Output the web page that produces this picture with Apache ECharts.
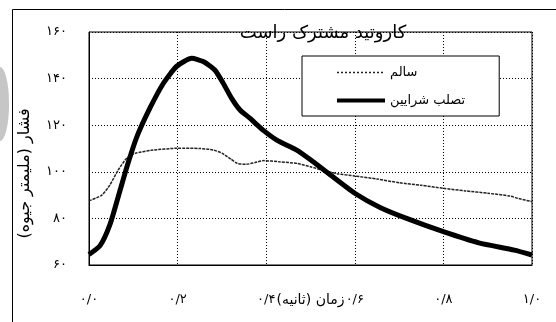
<!DOCTYPE html>
<html>
<head>
<meta charset="utf-8">
<script src="https://cdn.jsdelivr.net/npm/echarts@6/dist/echarts.min.js"></script>
<style>
html,body{margin:0;padding:0;background:#fff;}
#chart{width:556px;height:322px;}
</style>
</head>
<body>
<div id="chart"></div>
<script>
var titleText = 'کاروتید مشترک راست';
var seriesNames = ['سالم', 'تصلب شرایین'];
var xAxisName = '\u200Fزمان (ثانیه)\u200F';
var yAxisName = '\u200Fفشار (ملیمتر جیوه)\u200F';
var xTickLabels = ['۰/۰', '۰/۲', '۰/۴', '۰/۶', '۰/۸', '۱/۰'];
var yTickLabels = ['۶۰', '۸۰', '۱۰۰', '۱۲۰', '۱۴۰', '۱۶۰'];

var healthyTime = [0, 0.029, 0.047, 0.066, 0.085, 0.104, 0.14, 0.2, 0.25, 0.28, 0.30, 0.32, 0.335, 0.355, 0.375, 0.395, 0.43, 0.47, 0.5, 0.53, 0.56, 0.6, 0.65, 0.7, 0.75, 0.8, 0.85, 0.9, 0.95, 0.97, 1.0];
var healthyPressure = [87.5, 90, 94.3, 100.8, 105.8, 107.9, 109.2, 110.1, 110, 109.4, 108, 105.5, 103.6, 103.2, 104, 104.8, 104.3, 103.6, 102.2, 100.5, 99.2, 98.2, 96.9, 95.3, 94.2, 92.9, 91.8, 90.8, 89.6, 88.5, 87.2];

var atheroTime = [0, 0.025, 0.047, 0.066, 0.087, 0.108, 0.138, 0.168, 0.198, 0.232, 0.258, 0.284, 0.303, 0.322, 0.341, 0.363, 0.393, 0.424, 0.47, 0.506, 0.54, 0.6, 0.657, 0.717, 0.8, 0.88, 0.96, 1.0];
var atheroPressure = [64.5, 68.3, 77.2, 89.3, 103, 115, 127.5, 138, 145.3, 148.7, 147.3, 143.7, 138, 131.5, 126.5, 123, 117.9, 113.6, 109.2, 104.3, 99.4, 90.8, 84.7, 80, 74.3, 69.5, 66.4, 64.3];

function pairs(xs, ys) { return xs.map(function (x, i) { return [x, ys[i]]; }); }

var FONT = 'DejaVu Sans';
var chart = echarts.init(document.getElementById('chart'), null, {renderer: 'canvas'});
chart.setOption({
  animation: false,
  backgroundColor: '#fff',
  textStyle: {fontFamily: FONT, color: '#000'},
  title: {
    text: titleText, left: 318, top: 19, textAlign: 'center',
    textStyle: {fontFamily: FONT, fontSize: 18, fontWeight: 'normal', color: '#000'}
  },
  graphic: [
    {type: 'ellipse', shape: {cx: 0, cy: 104, rx: 9, ry: 37}, style: {fill: '#c6c6c6'}, z: 0},
    {type: 'rect', shape: {x: 12.5, y: 9.5, width: 600, height: 400}, style: {fill: null, stroke: '#000', lineWidth: 1}, z: 0}
  ],
  legend: {
    orient: 'vertical', left: 302, top: 56,
    padding: [10, 34, 9, 33],
    itemWidth: 48, itemHeight: 14, itemGap: 15,
    backgroundColor: '#fff', borderColor: '#000', borderWidth: 1,
    itemStyle: {opacity: 0},
    textStyle: {fontFamily: FONT, fontSize: 13, color: '#000'},
    data: [
      {name: seriesNames[0], lineStyle: {width: 1.5, type: [2, 2], color: '#222'}},
      {name: seriesNames[1], lineStyle: {width: 4, color: '#000'}}
    ]
  },
  grid: {left: 89, top: 32, right: 24, bottom: 57, show: true, borderColor: '#000', borderWidth: 1, backgroundColor: 'transparent'},
  xAxis: {
    type: 'value', min: 0, max: 1, interval: 0.2,
    name: xAxisName, nameLocation: 'middle', nameGap: 28, nameMoveOverlap: false,
    nameTextStyle: {fontFamily: FONT, fontSize: 14, color: '#000', backgroundColor: '#fff', padding: [0, 2]},
    axisLine: {show: true, lineStyle: {color: '#000', width: 1}},
    axisTick: {show: false},
    axisLabel: {margin: 28, fontFamily: FONT, fontSize: 13, color: '#000',
      formatter: function (v, i) { return xTickLabels[Math.round(v / 0.2)]; }},
    splitLine: {show: true, lineStyle: {color: '#000', type: [1, 2], width: 1}}
  },
  yAxis: {
    type: 'value', min: 60, max: 160, interval: 20,
    name: yAxisName, nameLocation: 'middle', nameGap: 56, nameRotate: 90, nameMoveOverlap: false,
    nameTextStyle: {fontFamily: FONT, fontSize: 16, color: '#000', padding: [0, 50, 0, 0]},
    axisLine: {show: true, lineStyle: {color: '#000', width: 1}},
    axisTick: {show: false},
    axisLabel: {margin: 22, fontFamily: FONT, fontSize: 13, color: '#000',
      formatter: function (v) { return yTickLabels[Math.round((v - 60) / 20)]; }},
    splitLine: {show: true, lineStyle: {color: '#000', type: [1, 2], width: 1}}
  },
  series: [
    {
      name: seriesNames[0], type: 'line', data: pairs(healthyTime, healthyPressure),
      symbol: 'none', smooth: 0.2, z: 3,
      lineStyle: {color: '#222', width: 1.5, type: [3, 1]},
      itemStyle: {color: '#222'}
    },
    {
      name: seriesNames[1], type: 'line', data: pairs(atheroTime, atheroPressure),
      symbol: 'none', smooth: 0.2, z: 4,
      lineStyle: {color: '#000', width: 5},
      itemStyle: {color: '#000'}
    }
  ]
});
</script>
</body>
</html>
